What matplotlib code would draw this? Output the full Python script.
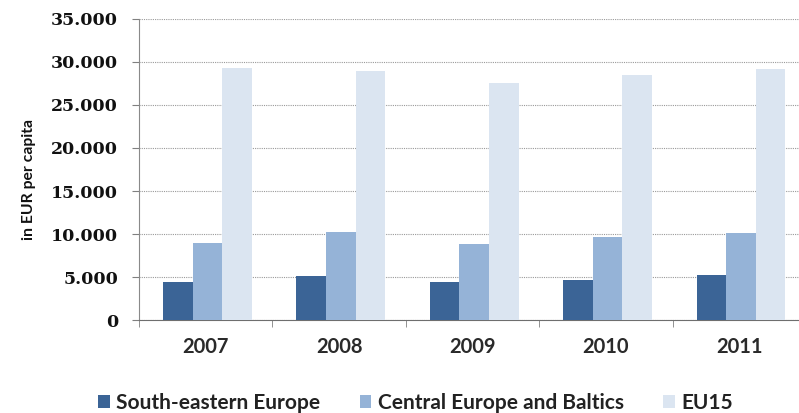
import numpy as np
import matplotlib.pyplot as plt
from matplotlib.ticker import FuncFormatter

years = ["2007", "2008", "2009", "2010", "2011"]
south_eastern = [4480, 5140, 4480, 4680, 5260]
central_baltics = [8990, 10270, 8850, 9690, 10170]
eu15 = [29230, 28950, 27490, 28460, 29150]

series = [
    ("South-eastern Europe", south_eastern, "#3b6496"),
    ("Central Europe and Baltics", central_baltics, "#95b3d7"),
    ("EU15", eu15, "#dbe5f1"),
]

fig = plt.figure(figsize=(7.99, 4.13), dpi=100)
ax = fig.add_axes([139 / 799, 1 - 320.3 / 413, (806 - 139) / 799, (320.3 - 18.6) / 413])

x = np.arange(len(years))
w = 0.222
for i, (name, vals, col) in enumerate(series):
    ax.bar(x + (i - 1) * w + 0.013, vals, width=w, color=col, label=name, zorder=3)

ax.set_xlim(-0.5, len(years) - 0.5)
ax.set_ylim(0, 35000)
ax.set_yticks(np.arange(0, 35001, 5000))
ax.yaxis.set_major_formatter(FuncFormatter(lambda v, p: f"{int(v):,}".replace(",", ".")))
ax.grid(axis="y", linestyle=(0, (1, 1)), color="#9a9a9a", linewidth=0.8, zorder=0)

ax.set_xticks(x)
ax.set_xticklabels(years, fontfamily="Lato", fontweight="bold", fontsize=14.5, color="#2a2a2a")
ax.set_xticks(np.arange(-0.5, len(years)), minor=True)
ax.tick_params(axis="x", which="major", length=0, pad=12)
ax.tick_params(axis="x", which="minor", length=5, color="#808080", direction="out")
ax.tick_params(axis="y", length=5, color="#808080", pad=10)
for lab in ax.get_yticklabels():
    lab.set_fontfamily("DejaVu Serif")
    lab.set_fontweight("bold")
    lab.set_fontsize(12.5)
    lab.set_color("#111111")

for s in ["top", "right"]:
    ax.spines[s].set_visible(False)
ax.spines["left"].set_color("#8a8a8a")
ax.spines["bottom"].set_color("#6e6e6e")

fig.text(29 / 799, 1 - 180 / 413, "in EUR per capita", rotation=90, ha="center", va="center",
         fontfamily="Lato", fontweight="bold", fontsize=11.3, color="#111111")

leg = fig.legend(loc="center", bbox_to_anchor=(0.52, 1 - 403 / 413), ncol=3, frameon=False,
                 prop={"family": "Lato", "weight": "bold", "size": 15},
                 handlelength=0.55, handleheight=0.6, handletextpad=0.3, columnspacing=1.9)
for t in leg.get_texts():
    t.set_color("#222222")

fig.savefig("out.png", dpi=100)
